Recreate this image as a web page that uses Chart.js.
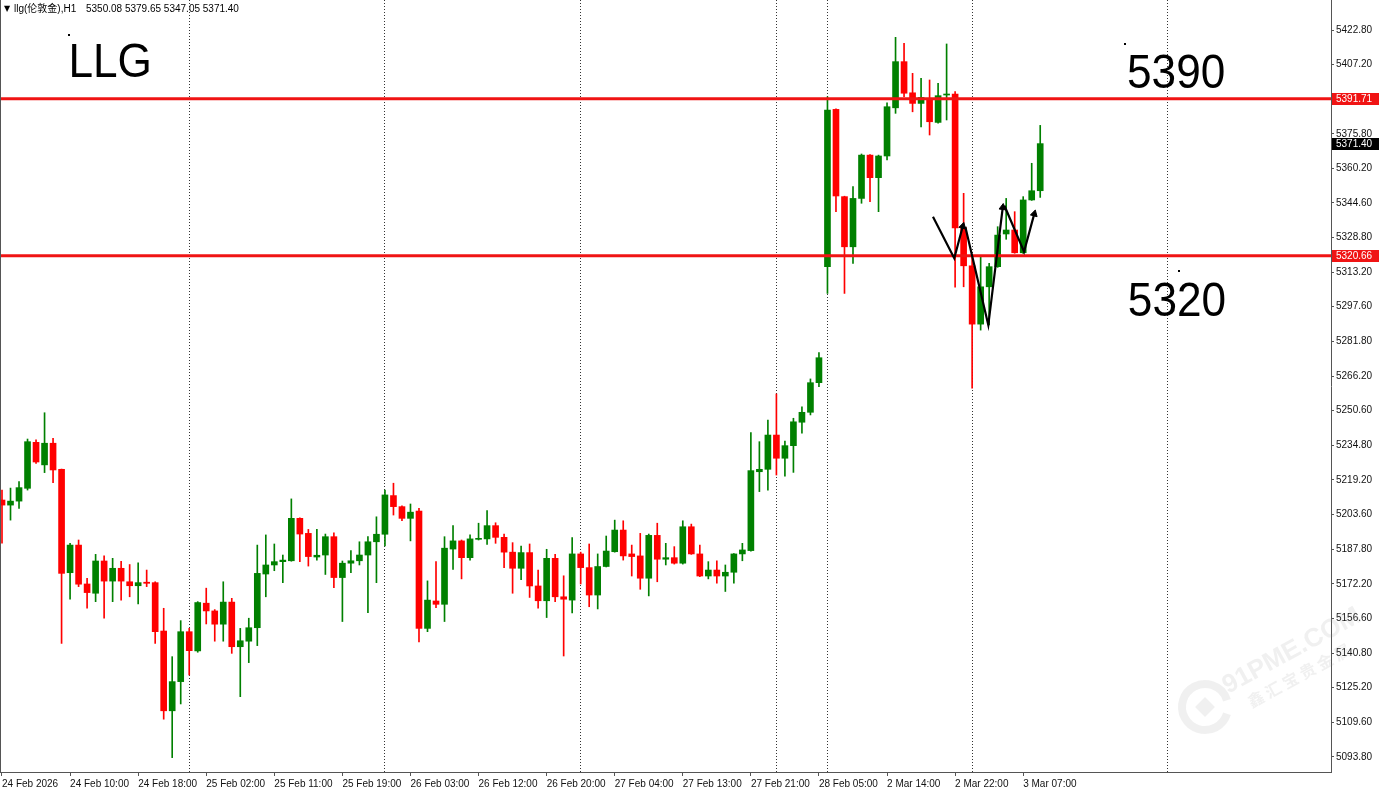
<!DOCTYPE html>
<html>
<head>
<meta charset="utf-8">
<script src="https://cdn.jsdelivr.net/npm/chart.js@4.4.1/dist/chart.umd.min.js"></script>
<style>
  html, body { margin: 0; padding: 0; background: #fff; }
  canvas { display: block; }
</style>
</head>
<body>
<canvas id="llgChart" width="1380" height="793"></canvas>
<script>
// llg H1 candles, 24 Feb - 3 Mar 2026
const symbolName = "llg(伦敦金),H1";

const openP = [
  5210.1, 5207.8, 5209.6, 5215.4, 5236.2, 5226.0, 5235.8, 5224.0, 5177.2, 5189.7,
  5172.1, 5167.9, 5182.5, 5173.4, 5179.2, 5173.1, 5171.3, 5172.9, 5172.7, 5150.8,
  5114.7, 5127.9, 5150.5, 5141.8, 5163.4, 5159.9, 5153.9, 5163.9, 5143.7, 5146.2,
  5152.3, 5176.6, 5180.7, 5182.2, 5182.6, 5201.8, 5195.0, 5184.3, 5185.2, 5193.5,
  5175.0, 5181.5, 5182.6, 5185.2, 5191.2, 5194.6, 5212.1, 5207.1, 5201.8, 5205.1,
  5152.0, 5164.4, 5162.9, 5187.9, 5191.6, 5184.0, 5192.3, 5192.5, 5198.5, 5193.2,
  5186.5, 5179.2, 5186.3, 5171.2, 5164.5, 5183.7, 5166.3, 5164.8, 5185.7, 5179.5,
  5167.1, 5180.0, 5186.7, 5196.5, 5185.7, 5184.8, 5174.7, 5194.1, 5183.3, 5184.0,
  5181.5, 5198.0, 5185.7, 5175.7, 5178.4, 5175.7, 5177.4, 5185.7, 5187.2, 5222.9,
  5224.0, 5239.5, 5229.0, 5234.7, 5245.3, 5249.8, 5263.2, 5315.7, 5386.9, 5347.4,
  5324.7, 5346.6, 5366.2, 5356.0, 5365.8, 5387.6, 5408.5, 5394.4, 5389.6, 5391.9,
  5381.0, 5393.4, 5393.8, 5333.3, 5316.1, 5289.7, 5306.6, 5315.7, 5330.5, 5332.3,
  5322.0, 5345.9, 5350.08
];
const highP = [
  5214.6, 5215.5, 5218.4, 5237.7, 5237.3, 5249.6, 5238.0, 5224.1, 5190.5, 5192.0,
  5174.7, 5185.5, 5184.8, 5183.7, 5182.4, 5180.9, 5181.7, 5178.4, 5173.1, 5161.1,
  5139.2, 5155.5, 5152.0, 5164.1, 5170.2, 5160.5, 5173.1, 5165.6, 5152.0, 5156.6,
  5189.7, 5194.3, 5190.2, 5185.2, 5210.6, 5202.0, 5196.8, 5196.8, 5194.7, 5195.3,
  5182.5, 5187.2, 5191.2, 5193.5, 5202.5, 5214.6, 5217.7, 5207.5, 5208.3, 5206.3,
  5173.5, 5182.2, 5193.5, 5198.5, 5192.0, 5194.3, 5199.6, 5205.3, 5199.8, 5194.7,
  5190.8, 5189.3, 5190.2, 5178.4, 5187.8, 5185.5, 5175.8, 5193.1, 5186.5, 5190.2,
  5185.7, 5193.8, 5201.0, 5200.7, 5189.7, 5195.0, 5194.7, 5199.6, 5190.5, 5189.0,
  5200.7, 5199.2, 5189.7, 5182.2, 5182.6, 5180.7, 5185.9, 5190.5, 5240.6, 5236.5,
  5246.3, 5258.1, 5236.8, 5247.1, 5252.3, 5264.9, 5276.8, 5392.6, 5387.2, 5347.6,
  5351.9, 5366.7, 5366.4, 5366.2, 5389.9, 5419.5, 5416.8, 5403.2, 5400.9, 5400.2,
  5398.7, 5416.5, 5394.9, 5348.9, 5320.2, 5320.2, 5317.2, 5333.8, 5346.6, 5340.6,
  5347.4, 5362.5, 5379.65
];
const lowP = [
  5190.6, 5201.0, 5206.3, 5214.6, 5226.7, 5222.5, 5217.9, 5145.2, 5165.2, 5170.9,
  5161.1, 5164.1, 5156.6, 5164.1, 5164.8, 5166.3, 5163.1, 5170.9, 5145.2, 5110.9,
  5093.5, 5117.8, 5130.9, 5141.2, 5154.0, 5146.2, 5146.2, 5140.7, 5121.1, 5136.5,
  5144.2, 5166.3, 5178.1, 5172.7, 5182.4, 5182.2, 5180.2, 5182.9, 5176.4, 5170.4,
  5155.1, 5177.2, 5180.7, 5159.1, 5172.7, 5189.3, 5203.3, 5200.7, 5191.6, 5145.9,
  5150.5, 5161.4, 5155.1, 5178.7, 5174.4, 5182.9, 5192.0, 5190.0, 5190.5, 5179.5,
  5167.9, 5174.0, 5166.0, 5161.1, 5156.9, 5164.1, 5139.5, 5159.0, 5172.1, 5161.8,
  5160.8, 5179.8, 5186.5, 5182.9, 5175.7, 5169.7, 5166.7, 5173.1, 5180.7, 5181.1,
  5181.1, 5185.5, 5175.4, 5174.4, 5172.5, 5168.7, 5172.5, 5182.6, 5187.0, 5213.9,
  5214.6, 5221.4, 5220.9, 5222.6, 5240.3, 5248.6, 5261.4, 5303.6, 5340.6, 5303.6,
  5317.2, 5344.4, 5345.1, 5340.6, 5364.0, 5385.1, 5392.6, 5385.8, 5379.0, 5375.3,
  5380.6, 5382.1, 5306.4, 5306.6, 5260.7, 5287.0, 5289.3, 5315.4, 5328.1, 5321.8,
  5321.7, 5345.7, 5347.05
];
const closeP = [
  5207.8, 5209.6, 5215.7, 5236.5, 5227.3, 5235.8, 5223.7, 5176.9, 5189.7, 5172.0,
  5168.2, 5182.5, 5173.4, 5179.2, 5173.4, 5171.3, 5172.7, 5172.4, 5150.5, 5114.7,
  5127.9, 5150.5, 5141.9, 5163.7, 5159.9, 5153.9, 5163.9, 5143.7, 5146.4, 5152.3,
  5176.9, 5180.7, 5182.2, 5182.9, 5201.8, 5194.7, 5184.5, 5185.1, 5193.5, 5175.0,
  5181.5, 5182.6, 5185.2, 5191.2, 5194.6, 5212.4, 5207.1, 5201.8, 5204.6, 5152.0,
  5164.8, 5162.9, 5188.3, 5191.6, 5184.0, 5192.5, 5192.6, 5198.5, 5193.2, 5186.5,
  5179.2, 5186.3, 5171.2, 5164.5, 5183.7, 5166.3, 5165.2, 5185.7, 5179.5, 5167.1,
  5180.0, 5187.0, 5196.5, 5184.8, 5184.5, 5174.7, 5194.1, 5183.3, 5184.0, 5181.5,
  5198.0, 5185.7, 5175.7, 5178.4, 5175.7, 5177.4, 5185.7, 5187.5, 5223.4, 5224.0,
  5239.5, 5229.0, 5234.7, 5245.5, 5249.8, 5263.2, 5274.5, 5386.6, 5347.7, 5324.7,
  5346.6, 5366.2, 5356.0, 5365.8, 5388.1, 5408.5, 5394.2, 5389.6, 5392.3, 5381.3,
  5393.1, 5393.8, 5333.3, 5316.1, 5289.7, 5306.6, 5315.7, 5330.0, 5332.3, 5322.0,
  5345.9, 5350.08, 5371.40
];

const xTickLabels = [
  "24 Feb 2026", "24 Feb 10:00", "24 Feb 18:00", "25 Feb 02:00", "25 Feb 11:00",
  "25 Feb 19:00", "26 Feb 03:00", "26 Feb 12:00", "26 Feb 20:00", "27 Feb 04:00",
  "27 Feb 13:00", "27 Feb 21:00", "28 Feb 05:00", "2 Mar 14:00", "2 Mar 22:00", "3 Mar 07:00"
];
const barsPerLabel = 8;
const yTickLabels = [
  5422.80, 5407.20, 5391.60, 5375.80, 5360.20, 5344.60, 5328.80, 5313.20, 5297.60, 5281.80,
  5266.20, 5250.60, 5234.80, 5219.20, 5203.60, 5187.80, 5172.20, 5156.60, 5140.80, 5125.20,
  5109.60, 5093.80
];
const daySeparators = [22, 45, 68, 91, 97, 114, 137];
const levels = [5391.71, 5320.66];

// hand drawn arrows: [bar index, price]
const arrowPaths = [
  [[109.4, 5338.3], [111.9, 5319.5], [112.9, 5334.0]],
  [[113.2, 5333.8], [115.9, 5289.3], [117.6, 5342.5]],
  [[117.8, 5343.3], [120.1, 5322.5], [121.3, 5339.6]]
];
const notes = [
  { text: "LLG", x: 7.8, y: 5401.5, dot: [7.8, 5421.0] },
  { text: "5390", x: 132.2, y: 5396.6, dot: [131.9, 5416.9] },
  { text: "5320", x: 132.3, y: 5293.4, dot: [138.2, 5314.2] }
];

const xMin = -0.235, xMax = 156.17;
const yMin = 5087.0, yMax = 5436.4;

const bull = "#008000", bear = "#ff0000", levelColor = "#f01414";
const idx = openP.map((_, i) => i);
const candleColors = idx.map(i => closeP[i] >= openP[i] ? bull : bear);

Chart.defaults.font.family = "'Liberation Sans', Arial, sans-serif";
Chart.defaults.font.size = 10;
Chart.defaults.color = "#111";

function arrowAngle(c) {
  const d = c.dataset.data, i = c.dataIndex;
  if (!i) return 0;
  const sx = c.chart.scales.x, sy = c.chart.scales.y;
  const dx = sx.getPixelForValue(d[i].x) - sx.getPixelForValue(d[i - 1].x);
  const dy = sy.getPixelForValue(d[i].y) - sy.getPixelForValue(d[i - 1].y);
  return Math.atan2(dx, -dy) * 180 / Math.PI;
}

function noPad(s) {
  s.paddingTop = s.paddingBottom = s.paddingLeft = s.paddingRight = 0;
}

const mtDecor = {
  id: "mtDecor",
  beforeDraw(chart) {
    const ctx = chart.ctx;
    ctx.save();
    ctx.fillStyle = "#fff";
    ctx.fillRect(0, 0, chart.width, chart.height);
    ctx.restore();
  },
  afterDraw(chart) {
    const { ctx, chartArea: a, scales: { x, y } } = chart;
    ctx.save();

    // left frame line
    ctx.strokeStyle = "#555";
    ctx.lineWidth = 1;
    ctx.beginPath();
    ctx.moveTo(a.left + 0.5, a.top);
    ctx.lineTo(a.left + 0.5, a.bottom);
    ctx.stroke();

    // text objects
    ctx.fillStyle = "#000";
    notes.forEach(n => {
      ctx.fillRect(Math.round(x.getPixelForValue(n.dot[0])), Math.round(y.getPixelForValue(n.dot[1])), 2, 2);
      ctx.save();
      ctx.translate(x.getPixelForValue(n.x), y.getPixelForValue(n.y));
      ctx.scale(0.92, 1);
      ctx.font = "48px 'Liberation Sans', Arial, sans-serif";
      ctx.textBaseline = "alphabetic";
      ctx.textAlign = "left";
      ctx.fillText(n.text, 0, 0);
      ctx.restore();
    });

    // price tags on the axis
    ctx.font = "10px 'Liberation Sans', Arial, sans-serif";
    ctx.textBaseline = "middle";
    ctx.textAlign = "left";
    const tag = (v, bg) => {
      const py = Math.round(y.getPixelForValue(v));
      ctx.fillStyle = bg;
      ctx.fillRect(a.right + 1, py - 6, 47, 12);
      ctx.fillStyle = "#fff";
      ctx.fillText(v.toFixed(2), a.right + 5, py + 0.5);
    };
    levels.forEach(v => tag(v, levelColor));
    tag(closeP[closeP.length - 1], "#000");

    // header line
    const last = closeP.length - 1;
    ctx.fillStyle = "#000";
    ctx.font = "8px 'DejaVu Sans', sans-serif";
    ctx.fillText("▼", 4, 9);
    ctx.font = "10px 'Liberation Sans', 'Noto Sans CJK SC', sans-serif";
    ctx.fillText(symbolName, 14, 9);
    ctx.fillText([openP[last], highP[last], lowP[last], closeP[last]].map(v => v.toFixed(2)).join(" "), 86, 9);

    // watermark
    ctx.globalAlpha = 0.13;
    ctx.strokeStyle = "#888";
    ctx.fillStyle = "#888";
    ctx.lineWidth = 8;
    ctx.beginPath();
    ctx.arc(1205, 707, 23, 0.3, Math.PI * 2 - 0.3);
    ctx.stroke();
    ctx.save();
    ctx.translate(1205, 707);
    ctx.rotate(-Math.PI / 4);
    ctx.fillRect(-7, -7, 14, 14);
    ctx.restore();
    ctx.save();
    ctx.translate(1228, 694);
    ctx.rotate(-0.5);
    ctx.font = "bold 26px 'Liberation Sans', Arial, sans-serif";
    ctx.textBaseline = "alphabetic";
    ctx.fillText("91PME.COM", 0, 0);
    ctx.font = "bold 16px 'Noto Sans CJK SC', sans-serif";
    ctx.fillText("鑫 汇 宝 贵 金 属", 14, 24);
    ctx.restore();

    ctx.restore();
  }
};

const ctx = document.getElementById("llgChart").getContext("2d");
const llgChart = new Chart(ctx, {
  type: "bar",
  data: {
    datasets: [
      ...arrowPaths.map(p => ({
        type: "line",
        data: p.map(([bx, pr]) => ({ x: bx, y: pr })),
        borderColor: "#000",
        borderWidth: 2.2,
        pointStyle: "triangle",
        pointRadius: c => c.dataIndex === p.length - 1 ? 4 : 0,
        pointRotation: arrowAngle,
        pointBackgroundColor: "#000",
        pointBorderColor: "#000",
        pointBorderWidth: 1,
        order: -1
      })),
      ...levels.map(v => ({
        type: "line",
        data: [{ x: xMin, y: v }, { x: xMax, y: v }],
        borderColor: levelColor,
        borderWidth: 3,
        pointRadius: 0,
        order: 0
      })),
      {
        label: "body",
        data: idx.map(i => ({ x: i, y: [openP[i], closeP[i]] })),
        backgroundColor: candleColors,
        barThickness: 6,
        minBarLength: 1,
        grouped: false,
        order: 1
      },
      {
        label: "wick",
        data: idx.map(i => ({ x: i, y: [lowP[i], highP[i]] })),
        backgroundColor: candleColors,
        barThickness: 1,
        grouped: false,
        order: 2
      }
    ]
  },
  options: {
    responsive: false,
    animation: false,
    devicePixelRatio: 1,
    layout: { padding: 0, autoPadding: false },
    plugins: {
      legend: { display: false },
      tooltip: { enabled: false }
    },
    scales: {
      x: {
        type: "linear",
        position: "bottom",
        min: xMin,
        max: xMax,
        offset: false,
        afterBuildTicks: s => { s.ticks = xTickLabels.map((_, k) => ({ value: k * barsPerLabel })); },
        afterFit: s => { s.height = 21; noPad(s); },
        ticks: {
          autoSkip: false,
          maxRotation: 0,
          align: "start",
          padding: 2,
          color: "#111",
          callback: (v, i) => xTickLabels[i]
        },
        grid: { drawOnChartArea: false, drawTicks: true, tickLength: 4, color: "#555", offset: false },
        border: { display: true, color: "#555" }
      },
      xs: {
        type: "linear",
        position: "bottom",
        min: xMin,
        max: xMax,
        offset: false,
        afterBuildTicks: s => { s.ticks = daySeparators.map(v => ({ value: v })); },
        afterFit: s => { s.height = 0; noPad(s); },
        ticks: { display: false },
        grid: { drawOnChartArea: true, drawTicks: false, color: "#333", lineWidth: 1, offset: false },
        border: { display: false, dash: [1, 2] }
      },
      y: {
        type: "linear",
        position: "right",
        min: yMin,
        max: yMax,
        bounds: "data",
        afterBuildTicks: s => { s.ticks = yTickLabels.map(v => ({ value: v })); },
        afterFit: s => { s.width = 49; noPad(s); },
        ticks: {
          autoSkip: false,
          padding: 2,
          color: "#111",
          callback: v => v.toFixed(2)
        },
        grid: { drawOnChartArea: false, drawTicks: true, tickLength: 3, color: "#555" },
        border: { display: true, color: "#555" }
      }
    }
  },
  plugins: [mtDecor]
});
</script>
</body>
</html>
